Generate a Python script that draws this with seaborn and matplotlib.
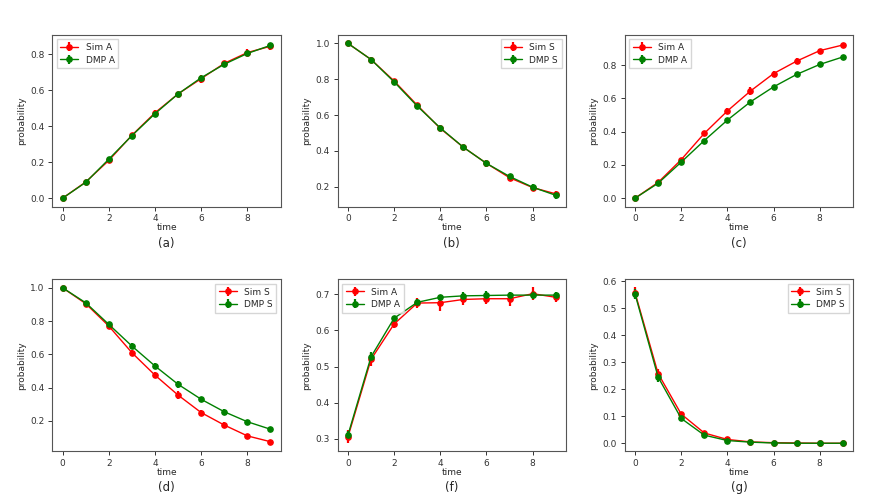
import matplotlib
matplotlib.use("Agg")
import matplotlib.pyplot as plt
import seaborn as sns
import numpy as np

# time steps
time = list(range(10))

# (a) asymptomatic, close match
sim_a1 = [0.0, 0.090, 0.210, 0.350, 0.475, 0.580, 0.665, 0.750, 0.810, 0.845]
sim_a1_err = [0.004, 0.010, 0.012, 0.014, 0.016, 0.010, 0.022, 0.012, 0.018, 0.020]
dmp_a1 = [0.0, 0.088, 0.217, 0.348, 0.470, 0.580, 0.670, 0.745, 0.805, 0.850]
dmp_a1_err = [0.004, 0.008, 0.010, 0.010, 0.012, 0.008, 0.012, 0.008, 0.010, 0.012]

# (b) susceptible, close match
sim_s1 = [1.0, 0.910, 0.790, 0.655, 0.525, 0.420, 0.330, 0.250, 0.195, 0.160]
sim_s1_err = [0.004, 0.012, 0.010, 0.014, 0.016, 0.010, 0.020, 0.012, 0.014, 0.018]
dmp_s1 = [1.0, 0.910, 0.785, 0.650, 0.528, 0.420, 0.330, 0.257, 0.197, 0.152]
dmp_s1_err = [0.004, 0.012, 0.010, 0.014, 0.014, 0.010, 0.020, 0.010, 0.018, 0.020]

# (c) asymptomatic, mismatch
sim_a2 = [0.0, 0.095, 0.232, 0.390, 0.525, 0.645, 0.750, 0.825, 0.888, 0.922]
sim_a2_err = [0.004, 0.008, 0.012, 0.016, 0.016, 0.024, 0.016, 0.018, 0.010, 0.014]
dmp_a2 = [0.0, 0.090, 0.217, 0.347, 0.470, 0.580, 0.670, 0.745, 0.805, 0.850]
dmp_a2_err = [0.002, 0.004, 0.006, 0.006, 0.006, 0.006, 0.006, 0.006, 0.006, 0.006]

# (d) susceptible, mismatch
sim_s2 = [1.0, 0.905, 0.770, 0.610, 0.475, 0.355, 0.250, 0.175, 0.110, 0.075]
sim_s2_err = [0.004, 0.008, 0.014, 0.016, 0.018, 0.022, 0.016, 0.016, 0.012, 0.010]
dmp_s2 = [1.0, 0.910, 0.780, 0.650, 0.530, 0.420, 0.330, 0.255, 0.195, 0.150]
dmp_s2_err = [0.004, 0.010, 0.012, 0.018, 0.016, 0.022, 0.014, 0.018, 0.010, 0.012]

# (f) asymptomatic, steady state
sim_a3 = [0.305, 0.520, 0.618, 0.676, 0.677, 0.686, 0.688, 0.688, 0.702, 0.692]
sim_a3_err = [0.018, 0.018, 0.012, 0.015, 0.022, 0.016, 0.014, 0.020, 0.018, 0.012]
dmp_a3 = [0.310, 0.527, 0.634, 0.678, 0.692, 0.696, 0.697, 0.698, 0.698, 0.698]
dmp_a3_err = [0.012, 0.012, 0.006, 0.008, 0.006, 0.012, 0.012, 0.010, 0.012, 0.010]

# (g) susceptible, steady state
sim_s3 = [0.558, 0.258, 0.108, 0.038, 0.014, 0.005, 0.002, 0.001, 0.0, 0.0]
sim_s3_err = [0.020, 0.016, 0.008, 0.006, 0.004, 0.002, 0.001, 0.001, 0.0005, 0.0005]
dmp_s3 = [0.553, 0.245, 0.092, 0.030, 0.010, 0.004, 0.001, 0.0, 0.0, 0.0]
dmp_s3_err = [0.018, 0.018, 0.010, 0.006, 0.004, 0.002, 0.001, 0.0005, 0.0005, 0.0005]

panels = [
    ("(a)", "A", sim_a1, sim_a1_err, dmp_a1, dmp_a1_err, "upper left"),
    ("(b)", "S", sim_s1, sim_s1_err, dmp_s1, dmp_s1_err, "upper right"),
    ("(c)", "A", sim_a2, sim_a2_err, dmp_a2, dmp_a2_err, "upper left"),
    ("(d)", "S", sim_s2, sim_s2_err, dmp_s2, dmp_s2_err, "upper right"),
    ("(f)", "A", sim_a3, sim_a3_err, dmp_a3, dmp_a3_err, "upper left"),
    ("(g)", "S", sim_s3, sim_s3_err, dmp_s3, dmp_s3_err, "upper right"),
]

sns.set_style("ticks")
plt.rcParams["font.family"] = ["DejaVu Sans"]
plt.rcParams["axes.edgecolor"] = "#555555"
plt.rcParams["xtick.color"] = "#333333"
plt.rcParams["ytick.color"] = "#333333"

fig = plt.figure(figsize=(8.86, 4.98), dpi=100)

lefts = [0.059, 0.381, 0.705]
bottoms = [0.585, 0.094]

for i, (tag, state, sim, sim_err, dmp, dmp_err, loc) in enumerate(panels):
    ax = fig.add_axes([lefts[i % 3], bottoms[i // 3], 0.258, 0.345])
    sns.despine(ax=ax, top=False, right=False)
    ax.errorbar(time, sim, yerr=sim_err, fmt="o-", color="red", ms=3.8, lw=1.0,
                elinewidth=1.6, label="Sim " + state)
    ax.errorbar(time, dmp, yerr=dmp_err, fmt="o-", color="green", ms=3.8, lw=1.0,
                elinewidth=1.6, label="DMP " + state)
    ax.set_xticks([0, 2, 4, 6, 8])
    ax.tick_params(labelsize=6.5, length=3, width=0.7, pad=2.5)
    ax.set_xlabel("time", fontsize=6.5, labelpad=0)
    ax.set_ylabel("probability", fontsize=6.5, labelpad=3)
    ax.legend(loc=loc, fontsize=6.5, frameon=True, fancybox=False, edgecolor="#cccccc",
              handlelength=2.0, borderpad=0.4, labelspacing=0.4)
    ax.text(0.5, -0.175, tag, transform=ax.transAxes, ha="center", va="top", fontsize=8.5)

fig.savefig("out.png", dpi=100)
